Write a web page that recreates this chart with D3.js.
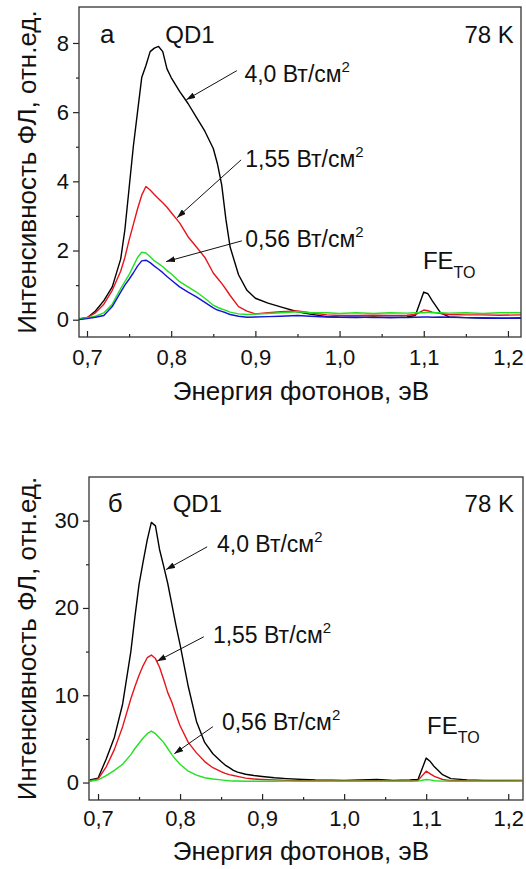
<!DOCTYPE html>
<html>
<head>
<meta charset="utf-8">
<script src="https://cdn.jsdelivr.net/npm/d3@7"></script>
<style>
    body { margin: 0; background: #fff; }
    text { font-family: "Liberation Sans", Arial, sans-serif; fill: #111; }
</style>
</head>
<body>
<div id="chart"></div>
<script>
// photon energy grid, eV (shared by both panels)
const energy = [0.690, 0.700, 0.710, 0.720, 0.730, 0.740, 0.745, 0.750, 0.755, 0.760,
    0.765, 0.770, 0.775, 0.780, 0.785, 0.790, 0.795, 0.800, 0.810, 0.820,
    0.830, 0.840, 0.850, 0.855, 0.860, 0.865, 0.870, 0.880, 0.890, 0.900,
    0.915, 0.930, 0.950, 0.965, 0.985, 1.000, 1.020, 1.040, 1.060, 1.080,
    1.090, 1.100, 1.105, 1.110, 1.120, 1.130, 1.150, 1.170, 1.190, 1.217]

// panel а
const topBlack = [0.02, 0.05, 0.25, 0.55, 0.95, 1.75, 2.6, 3.8, 5.0, 6.0,
    7.0, 7.35, 7.75, 7.85, 7.9, 7.75, 7.25, 7.0, 6.6, 6.25,
    5.85, 5.45, 4.95, 4.5, 3.9, 2.9, 2.1, 1.3, 0.85, 0.62,
    0.48, 0.37, 0.23, 0.16, 0.09, 0.07, 0.06, 0.08, 0.06, 0.08,
    0.12, 0.8, 0.75, 0.55, 0.2, 0.08, 0.06, 0.05, 0.04, 0.05]
const topRed = [0.03, 0.06, 0.2, 0.45, 0.85, 1.4, 1.8, 2.3, 2.75, 3.2,
    3.6, 3.85, 3.75, 3.62, 3.5, 3.38, 3.25, 3.1, 2.8, 2.4,
    2.1, 1.8, 1.35, 1.2, 1.05, 0.88, 0.7, 0.38, 0.25, 0.17,
    0.2, 0.23, 0.25, 0.2, 0.14, 0.12, 0.12, 0.13, 0.12, 0.13,
    0.15, 0.28, 0.26, 0.22, 0.18, 0.15, 0.14, 0.14, 0.13, 0.14]
const topGreen = [0.02, 0.05, 0.1, 0.2, 0.45, 0.9, 1.1, 1.3, 1.55, 1.8,
    1.95, 1.93, 1.82, 1.7, 1.62, 1.53, 1.42, 1.33, 1.1, 0.95,
    0.8, 0.62, 0.42, 0.36, 0.31, 0.27, 0.22, 0.17, 0.15, 0.16,
    0.18, 0.2, 0.23, 0.2, 0.2, 0.18, 0.2, 0.18, 0.2, 0.19,
    0.2, 0.2, 0.22, 0.2, 0.2, 0.19, 0.2, 0.18, 0.2, 0.2]
const topBlue = [0.0, 0.03, 0.07, 0.12, 0.38, 0.8, 1.0, 1.17, 1.35, 1.55,
    1.7, 1.72, 1.65, 1.55, 1.46, 1.36, 1.25, 1.15, 0.95, 0.8,
    0.66, 0.5, 0.34, 0.28, 0.24, 0.2, 0.15, 0.1, 0.07, 0.08,
    0.09, 0.1, 0.12, 0.1, 0.08, 0.07, 0.08, 0.06, 0.07, 0.06,
    0.07, 0.08, 0.08, 0.07, 0.08, 0.07, 0.06, 0.05, 0.04, 0.05]

// panel б
const botBlack = [0.3, 0.5, 2.7, 5.2, 9.0, 15.0, 19.0, 22.7, 25.3, 27.8,
    29.8, 29.4, 26.7, 24.8, 22.8, 20.4, 18.0, 15.8, 11.0, 7.0,
    4.6, 3.3, 2.4, 2.0, 1.7, 1.4, 1.2, 0.95, 0.8, 0.7,
    0.55, 0.45, 0.35, 0.3, 0.28, 0.25, 0.3, 0.35, 0.25, 0.3,
    0.35, 2.8, 2.4, 1.8, 0.9, 0.45, 0.3, 0.25, 0.25, 0.25]
const botRed = [0.2, 0.4, 1.8, 3.8, 6.4, 9.6, 11.0, 12.3, 13.4, 14.3,
    14.6, 14.2, 13.2, 11.8, 10.3, 9.2, 7.8, 6.5, 4.6, 3.4,
    2.4, 1.7, 1.25, 1.05, 0.9, 0.8, 0.7, 0.5, 0.4, 0.35,
    0.3, 0.25, 0.22, 0.2, 0.2, 0.18, 0.2, 0.22, 0.18, 0.2,
    0.25, 1.3, 1.0, 0.7, 0.35, 0.22, 0.2, 0.18, 0.18, 0.2]
const botGreen = [0.15, 0.3, 0.8, 1.4, 2.1, 3.2, 3.9, 4.5, 5.1, 5.6,
    5.9, 5.6, 5.1, 4.6, 3.9, 3.2, 2.6, 2.1, 1.3, 0.85,
    0.55, 0.4, 0.3, 0.25, 0.2, 0.18, 0.17, 0.15, 0.15, 0.15,
    0.15, 0.16, 0.15, 0.15, 0.16, 0.15, 0.15, 0.16, 0.15, 0.15,
    0.16, 0.35, 0.3, 0.2, 0.16, 0.15, 0.15, 0.15, 0.15, 0.15]

const xTicks = [0.7, 0.8, 0.9, 1.0, 1.1, 1.2]
const xTickLabels = ["0,7", "0,8", "0,9", "1,0", "1,1", "1,2"]
const xMinor = [0.75, 0.85, 0.95, 1.05, 1.15]
const topYTicks = [0, 2, 4, 6, 8]
const topYMinor = [1, 3, 5, 7]
const botYTicks = [0, 10, 20, 30]
const botYMinor = [5, 15, 25]
const powerLabels = ["4,0", "1,55", "0,56"]

const W = 526
const H = 869

let svg = d3.select("#chart")
    .append("svg")
    .attr("width", W)
    .attr("height", H)

// arrow head
svg.append("defs")
    .append("marker")
    .attr("id", "arrow")
    .attr("markerUnits", "userSpaceOnUse")
    .attr("markerWidth", 9)
    .attr("markerHeight", 6)
    .attr("refX", 9)
    .attr("refY", 3)
    .attr("orient", "auto")
    .append("path")
    .attr("d", "M0,0 L9,3 L0,6 z")
    .attr("fill", "#111")

const drawPanel = (p) => {
    let x = d3.scaleLinear().domain(p.xDomain).range([p.left, p.right])
    let y = d3.scaleLinear().domain(p.yDomain).range([p.bottom, p.top])

    let g = svg.append("g")

    g.append("clipPath")
        .attr("id", p.id + "-clip")
        .append("rect")
        .attr("x", p.left)
        .attr("y", p.top)
        .attr("width", p.right - p.left)
        .attr("height", p.bottom - p.top)

    // curves
    let line = d3.line()
        .x((d, i) => x(energy[i]))
        .y(d => y(d))

    g.append("g")
        .attr("clip-path", "url(#" + p.id + "-clip)")
        .selectAll("path")
        .data(p.series)
        .enter()
        .append("path")
        .attr("fill", "none")
        .attr("stroke", d => d.color)
        .attr("stroke-width", 1.4)
        .attr("stroke-linejoin", "round")
        .attr("d", d => line(d.values))

    // Add X axis (ticks inside)
    g.append("g")
        .attr("transform", "translate(0," + p.bottom + ")")
        .call(d3.axisBottom(x)
            .tickValues(xTicks)
            .tickSize(-6)
            .tickPadding(p.xPad)
            .tickFormat((d, i) => xTickLabels[i]))
    g.append("g")
        .attr("transform", "translate(0," + p.bottom + ")")
        .call(d3.axisBottom(x).tickValues(xMinor).tickSize(-3).tickFormat(""))

    // Add Y axis (ticks outside)
    g.append("g")
        .attr("transform", "translate(" + p.left + ",0)")
        .call(d3.axisLeft(y).tickValues(p.yTicks).tickSize(6).tickPadding(4))
    g.append("g")
        .attr("transform", "translate(" + p.left + ",0)")
        .call(d3.axisLeft(y).tickValues(p.yMinor).tickSize(3).tickFormat(""))

    g.selectAll(".domain").remove()
    g.selectAll(".tick line").attr("stroke", "#222").attr("stroke-width", 1.2)
    g.selectAll(".tick text")
        .attr("font-size", 22)
        .attr("fill", "#111")
        .attr("font-family", "Liberation Sans, Arial, sans-serif")

    // frame
    g.append("rect")
        .attr("x", p.left)
        .attr("y", p.top)
        .attr("width", p.right - p.left)
        .attr("height", p.bottom - p.top)
        .attr("fill", "none")
        .attr("stroke", "#333")
        .attr("stroke-width", 1.3)

    // axis titles
    g.append("text")
        .attr("transform", "translate(36," + (p.top + p.bottom) / 2 + ") rotate(-90)")
        .attr("text-anchor", "middle")
        .attr("font-size", 26)
        .text("Интенсивность ФЛ, отн.ед.")
    g.append("text")
        .attr("x", 301)
        .attr("y", p.titleY)
        .attr("text-anchor", "middle")
        .attr("font-size", 26)
        .text("Энергия фотонов, эВ")

    // panel letter, sample, temperature
    g.append("text")
        .attr("x", x(p.letterAt[0])).attr("y", y(p.letterAt[1]))
        .attr("font-size", 26)
        .text(p.letter)
    g.append("text")
        .attr("x", x(p.qdAt[0])).attr("y", y(p.letterAt[1]))
        .attr("font-size", 24)
        .text("QD1")
    g.append("text")
        .attr("x", x(p.tempAt[0])).attr("y", y(p.letterAt[1]))
        .attr("text-anchor", "end")
        .attr("font-size", 24)
        .text("78 K")

    // power labels with arrows
    p.notes.forEach((n, i) => {
        g.append("line")
            .attr("x1", x(n.from[0])).attr("y1", y(n.from[1]))
            .attr("x2", x(n.to[0])).attr("y2", y(n.to[1]))
            .attr("stroke", "#111")
            .attr("stroke-width", 1)
            .attr("marker-end", "url(#arrow)")
        let t = g.append("text")
            .attr("x", x(n.at[0])).attr("y", y(n.at[1]))
            .attr("font-size", 23)
        t.append("tspan").text(powerLabels[i] + " Вт/см")
        t.append("tspan").attr("dy", -10).attr("font-size", 15).text("2")
    })

    // free exciton line
    let fe = g.append("text")
        .attr("x", x(p.feAt[0])).attr("y", y(p.feAt[1]))
        .attr("font-size", 24)
    fe.append("tspan").text("FE")
    fe.append("tspan").attr("dy", 9).attr("font-size", 16).text("TO")
}

drawPanel({
    id: "a",
    left: 79, right: 521, top: 7, bottom: 337,
    titleY: 400,
    xPad: 12,
    xDomain: [0.6905, 1.2155],
    yDomain: [-0.5, 9.04],
    yTicks: topYTicks,
    yMinor: topYMinor,
    series: [
        { values: topBlack, color: "#000000" },
        { values: topRed, color: "#e8141c" },
        { values: topGreen, color: "#22e022" },
        { values: topBlue, color: "#1414d8" }
    ],
    letter: "а",
    letterAt: [0.7155, 8.0],
    qdAt: [0.793],
    tempAt: [1.207],
    feAt: [1.099, 1.47],
    notes: [
        { from: [0.878, 7.2], to: [0.818, 6.36], at: [0.887, 6.88] },
        { from: [0.883, 4.62], to: [0.807, 2.95], at: [0.888, 4.42] },
        { from: [0.884, 2.28], to: [0.794, 1.68], at: [0.888, 2.1] }
    ]
})

drawPanel({
    id: "b",
    left: 89, right: 523, top: 477, bottom: 800,
    titleY: 860,
    xPad: 10,
    xDomain: [0.689, 1.218],
    yDomain: [-2, 35],
    yTicks: botYTicks,
    yMinor: botYMinor,
    series: [
        { values: botBlack, color: "#000000" },
        { values: botRed, color: "#e8141c" },
        { values: botGreen, color: "#22e022" }
    ],
    letter: "б",
    letterAt: [0.712, 31.0],
    qdAt: [0.791],
    tempAt: [1.207],
    feAt: [1.101, 5.6],
    notes: [
        { from: [0.833, 27.0], to: [0.783, 24.4], at: [0.845, 26.4] },
        { from: [0.829, 16.7], to: [0.772, 13.9], at: [0.840, 16.0] },
        { from: [0.840, 6.4], to: [0.793, 3.3], at: [0.851, 6.0] }
    ]
})
</script>
</body>
</html>
